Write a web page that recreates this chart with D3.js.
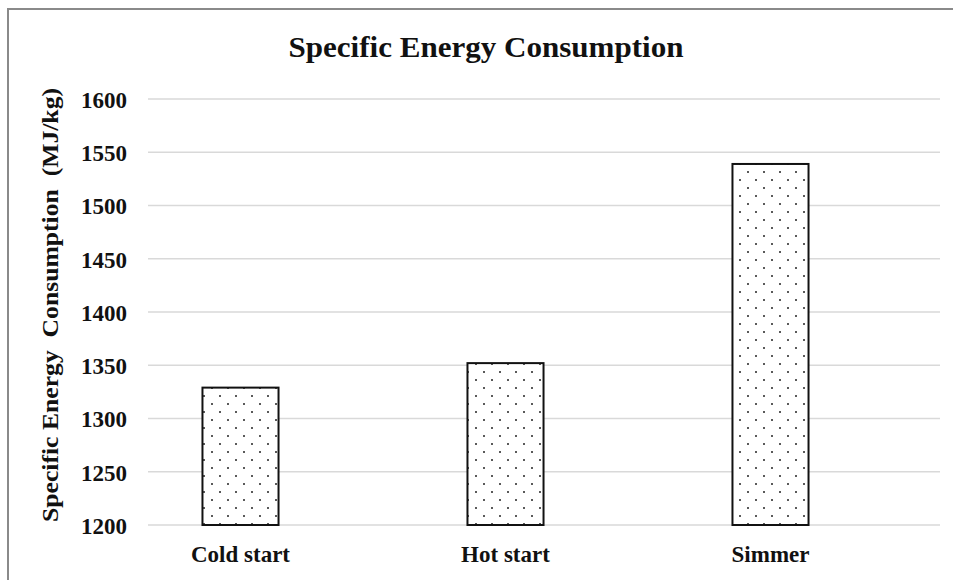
<!DOCTYPE html>
<html><head><meta charset="utf-8">
<script src="https://cdn.jsdelivr.net/npm/d3@7"></script>
<style>html,body{margin:0;padding:0;background:#fff;}svg{display:block;}</style>
</head><body>
<svg id="chart" width="953" height="580"></svg>
<script>
const categories = ["Cold start", "Hot start", "Simmer"];
const values = [1329, 1352, 1539];
const yTicks = [1200, 1250, 1300, 1350, 1400, 1450, 1500, 1550, 1600];
const chartTitle = "Specific Energy Consumption";
const yTitle = "Specific Energy  Consumption  (MJ/kg)";

const svg = d3.select("#chart");
const font = "'Liberation Serif','Times New Roman',serif";

// pattern
const defs = svg.append("defs");
const pat = defs.append("pattern").attr("id","dots").attr("patternUnits","userSpaceOnUse")
  .attr("width",16).attr("height",16);
pat.append("rect").attr("width",16).attr("height",16).attr("fill","#fff");
pat.append("circle").attr("cx",4).attr("cy",4).attr("r",1).attr("fill","#222");
pat.append("circle").attr("cx",12).attr("cy",12).attr("r",1).attr("fill","#222");

// outer border
svg.append("rect").attr("x",8).attr("y",9).attr("width",980).attr("height",600)
  .attr("fill","#fff").attr("stroke","#8a8a8a").attr("stroke-width",2);

const y = d3.scaleLinear().domain([1200,1600]).range([525,99]);
const x = d3.scaleBand().domain(categories).range([108,903]).paddingInner(0.713).paddingOuter(0.3565);
const gridX0 = 148, gridX1 = 940;

// gridlines
svg.append("g").selectAll("line").data(yTicks).join("line")
  .attr("x1",gridX0).attr("x2",gridX1)
  .attr("y1",d=>y(d)).attr("y2",d=>y(d))
  .attr("stroke","#d9d9d9").attr("stroke-width",1.5);

// y tick labels via axis
const yAxis = svg.append("g").attr("transform",`translate(${gridX0},0)`)
  .call(d3.axisLeft(y).tickValues(yTicks).tickSize(0).tickPadding(21).tickFormat(d3.format("d")));
yAxis.select(".domain").remove();
yAxis.selectAll("text").attr("font-family",font).attr("font-weight","bold")
  .attr("font-size",24).attr("fill","#111").attr("dy","0.35em")
  .attr("textLength",46).attr("lengthAdjust","spacingAndGlyphs");

// bars
svg.append("g").selectAll("rect").data(categories).join("rect")
  .attr("x",d=>x(d)).attr("width",x.bandwidth())
  .attr("y",(d,i)=>y(values[i])).attr("height",(d,i)=>y(1200)-y(values[i]))
  .attr("fill","url(#dots)").attr("stroke","#111").attr("stroke-width",2);

// x labels
const xAxis = svg.append("g").attr("transform","translate(0,525)")
  .call(d3.axisBottom(x).tickSize(0).tickPadding(21));
xAxis.select(".domain").remove();
xAxis.selectAll("text").attr("font-family",font).attr("font-weight","bold")
  .attr("font-size",23).attr("fill","#111");

// title
svg.append("text").attr("x",486).attr("y",57).attr("text-anchor","middle")
  .attr("font-family",font).attr("font-weight","bold").attr("font-size",30)
  .attr("fill","#111").attr("textLength",395).attr("lengthAdjust","spacingAndGlyphs")
  .text(chartTitle);

// y title
svg.append("text").attr("transform","translate(58,305) rotate(-90)")
  .attr("text-anchor","middle").attr("font-family",font).attr("font-weight","bold")
  .attr("font-size",23).attr("fill","#111").attr("textLength",434).attr("lengthAdjust","spacingAndGlyphs")
  .style("white-space","pre")
  .text(yTitle);
</script>
</body></html>
